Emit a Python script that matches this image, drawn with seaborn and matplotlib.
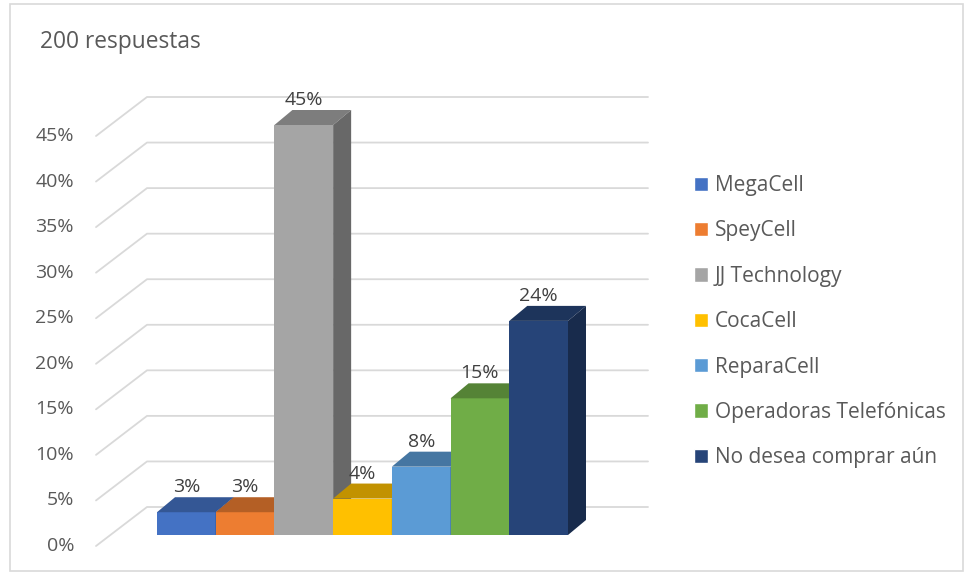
import matplotlib
matplotlib.use("Agg")
import matplotlib.pyplot as plt
import seaborn as sns
import pandas as pd
import numpy as np
from matplotlib.patches import Polygon, Rectangle
from matplotlib.lines import Line2D
from matplotlib.transforms import IdentityTransform
import matplotlib.colors as mcolors

# ---------------- data ----------------
marcas = ["MegaCell", "SpeyCell", "JJ Technology", "CocaCell", "ReparaCell",
          "Operadoras Telefónicas", "No desea comprar aún"]
porcentajes = [2.5, 2.5, 45.0, 4.0, 7.5, 15.0, 23.5]
colores = ["#4472C4", "#ED7D31", "#A5A5A5", "#FFC000", "#5B9BD5", "#70AD47", "#264478"]
y_ticks = [0, 5, 10, 15, 20, 25, 30, 35, 40, 45]
titulo = "200 respuestas"

df = pd.DataFrame({"marca": marcas, "pct": porcentajes})

sns.set_theme(style="white")
plt.rcParams["font.family"] = ["Open Sans", "DejaVu Sans"]
TXT = "#595959"

W, H = 965, 575
fig = plt.figure(figsize=(W / 100, H / 100), dpi=100)
fig.patch.set_facecolor("white")

# front face area of the bars
ax = fig.add_axes([157 / W, (H - 535) / H, (568 - 157) / W, (535 - 125) / H])
sns.barplot(data=df, x="marca", y="pct", hue="marca", palette=colores,
            width=1.0, saturation=1, ax=ax, legend=True, order=marcas, hue_order=marcas)
ax.set_xlim(-0.5, len(marcas) - 0.5)
ax.set_ylim(0, 45)
ax.axis("off")

DX, DY = 18, 15  # depth of bars in pixels
fig.canvas.draw()


def px(x, y):
    return ax.transData.transform((x, y))


def darker(c, f):
    r, g, b = mcolors.to_rgb(c)
    return (r * f, g * f, b * f)


ident = IdentityTransform()
grid_c = "#D9D9D9"
# gridlines (side wall + back wall) and tick labels
for v in y_ticks:
    p0 = px(-0.5, v)
    p1 = px(len(marcas) - 0.5, v)
    xs = [p0[0] - 61, p0[0] - 10, p1[0] + 80]
    ys = [p0[1] - 11, p0[1] + 28, p0[1] + 28]
    ax.add_line(Line2D(xs, ys, transform=ident, color=grid_c, lw=1.3, zorder=0.5,
                       clip_on=False))
    ax.text(p0[0] - 83, p0[1] - 11, f"{v}%", transform=ident, ha="right", va="center",
            fontsize=14, color=TXT, clip_on=False)

# 3D faces
k = 0
for cont in ax.containers:
    for bar in cont:
        x0 = bar.get_x()
        x1 = x0 + bar.get_width()
        h = bar.get_height()
        fc = bar.get_facecolor()
        bar.set_zorder(2 + 3 * k)
        bar.set_edgecolor("none")
        flt = px(x0, h)
        frt = px(x1, h)
        frb = px(x1, 0)
        top = [flt, frt, frt + [DX, DY], flt + [DX, DY]]
        side = [frb, frt, frt + [DX, DY], frb + [DX, DY]]
        ax.add_patch(Polygon(top, closed=True, transform=ident, facecolor=darker(fc, 0.76),
                             edgecolor="none", zorder=3 + 3 * k, clip_on=False))
        ax.add_patch(Polygon(side, closed=True, transform=ident, facecolor=darker(fc, 0.63),
                             edgecolor="none", zorder=4 + 3 * k, clip_on=False))
        lbl = f"{int(h + 0.5)}%"
        c = px((x0 + x1) / 2, h)
        ax.text(c[0], c[1] + DY + 1, lbl, transform=ident, ha="center", va="bottom",
                fontsize=14, color="#404040", zorder=40, clip_on=False)
        k += 1

# legend
handles, labels = ax.get_legend_handles_labels()
if ax.get_legend() is not None:
    ax.get_legend().remove()
leg = fig.legend(handles, labels, loc="upper left", bbox_to_anchor=(694 / W, 1 - 175 / H),
                 frameon=False, fontsize=15, handlelength=0.68, handleheight=0.68,
                 handletextpad=0.33, labelspacing=1.17, borderpad=0, borderaxespad=0)
for t in leg.get_texts():
    t.set_color(TXT)

fig.text(40 / W, 1 - 42 / H, titulo, ha="left", va="center", fontsize=16.4, color=TXT)

fig.add_artist(Rectangle((10 / W, 4 / H), 953 / W, 567 / H, transform=fig.transFigure,
                         fill=False, edgecolor="#D9D9D9", lw=1.2))

fig.savefig("out.png", dpi=100)
